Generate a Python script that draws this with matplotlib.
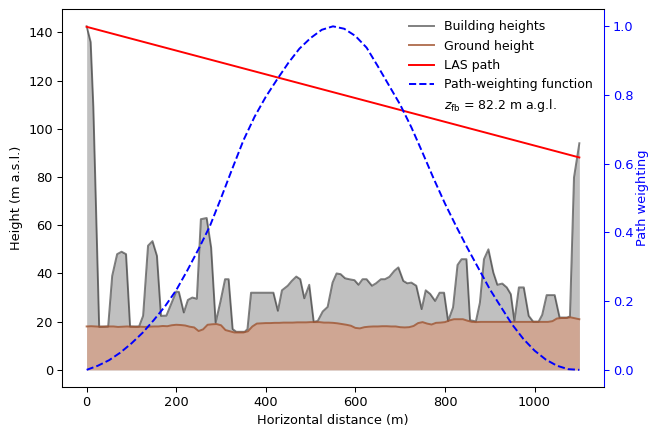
import numpy as np
import matplotlib
matplotlib.use('Agg')
import matplotlib.pyplot as plt
from matplotlib.lines import Line2D

# building roof profile along the path (distance m, height m a.s.l.)
bld_x = [0, 9, 15, 28, 48, 57, 68, 78, 88, 97, 117, 126, 137, 147, 157, 166, 178,
         200, 206, 217, 226, 236, 246, 255, 268, 278, 288, 299, 309, 317, 326, 334,
         353, 359, 367, 417, 427, 436, 449, 458, 468, 477, 486, 497, 507, 516, 527,
         538, 549, 558, 567, 577, 586, 598, 607, 616, 625, 637, 646, 657, 666, 676,
         687, 696, 707, 716, 725, 736, 748, 757, 767, 778, 788, 798, 807, 818, 828,
         837, 848, 856, 869, 878, 887, 897, 908, 917, 928, 938, 947, 955, 965, 976,
         987, 997, 1009, 1017, 1027, 1045, 1056, 1073, 1079, 1088, 1100]
bld_h = [142.5, 136, 109, 17.9, 18, 39, 48, 49, 48, 18, 18, 22.4, 51.5, 53.4, 47.3, 22.4, 22.5,
         32.5, 32.3, 23.8, 29, 30, 29.5, 62.5, 63, 50.7, 19.6, 28.6, 37.6, 37.6, 16.9, 15.8,
         15.8, 16.9, 32, 32, 24.5, 33, 34.9, 36.9, 38.7, 37.6, 29.7, 35.3, 19.9, 20.3, 24.2,
         26.1, 36.2, 40, 39.7, 38, 37.6, 37.2, 35.3, 37.6, 37.6, 34.9, 35.9, 37.6, 37.6, 38.6,
         41.1, 42.5, 36.9, 35.9, 36.2, 34.9, 25.2, 33, 31.5, 28.6, 32, 32, 20.3, 25.9, 43.5,
         45.9, 45.9, 20.6, 20.1, 27.9, 45.9, 50, 40.4, 35.3, 35.8, 34.2, 31.4, 20.3, 34.2, 34.2,
         22.4, 20, 20, 22.8, 31, 31, 21.7, 21.7, 22.2, 79.8, 94]

# terrain height, every 10 m
gnd_x = np.arange(0, 1110, 10)
gnd_h = [18.0, 18.1, 18.0, 17.9, 17.9, 18.0, 18.0, 17.8, 17.9, 18.0,
         17.9, 17.8, 17.9, 17.8, 17.9, 18.0, 18.0, 18.2, 18.1, 18.5,
         18.7, 18.6, 18.4, 17.9, 17.6, 16.1, 16.8, 18.7, 18.9, 19.0,
         18.5, 16.5, 16.0, 15.5, 15.5, 15.5, 16.0, 18.0, 19.2, 19.3,
         19.4, 19.4, 19.5, 19.5, 19.6, 19.6, 19.6, 19.7, 19.7, 19.7,
         19.8, 19.8, 19.8, 19.6, 19.6, 19.5, 19.3, 19.0, 18.7, 18.3,
         17.4, 17.2, 17.7, 17.9, 18.0, 18.0, 18.1, 18.1, 18.0, 18.0,
         17.7, 17.6, 17.7, 18.2, 19.4, 19.8, 19.2, 18.8, 19.5, 19.6,
         19.8, 20.5, 21.0, 21.0, 21.0, 20.4, 19.9, 19.8, 19.9, 19.9,
         19.9, 19.9, 19.9, 19.9, 19.9, 19.9, 19.9, 19.9, 19.9, 19.9,
         19.9, 19.9, 19.9, 19.9, 20.2, 21.3, 21.5, 21.5, 21.8, 21.4,
         21.0]

# scintillometer beam end points
las_x = [0, 1100]
las_h = [142.3, 88.1]

# path-weighting function, every 25 m
pw_x = np.arange(0, 1125, 25)
pw_w = [0.0, 0.012, 0.028, 0.05, 0.077, 0.108, 0.145, 0.185, 0.232, 0.29,
        0.352, 0.418, 0.50, 0.585, 0.668, 0.737, 0.795, 0.845, 0.893, 0.935,
        0.966, 0.99, 1.0, 0.993, 0.972, 0.938, 0.884, 0.828, 0.772, 0.706,
        0.632, 0.556, 0.484, 0.418, 0.355, 0.295, 0.235, 0.183, 0.132, 0.09,
        0.056, 0.03, 0.012, 0.002, 0.0]

z_fb = 82.2

s = 0.93  # overall scale of fonts/lines
plt.rcParams.update({
    'font.size': 10 * s,
    'axes.linewidth': 0.8 * s,
    'xtick.major.size': 3.5 * s, 'ytick.major.size': 3.5 * s,
    'xtick.major.width': 0.8 * s, 'ytick.major.width': 0.8 * s,
    'xtick.major.pad': 3.5 * s, 'ytick.major.pad': 3.5 * s,
    'axes.labelpad': 4.0 * s,
})
LW = 1.5 * s

fig = plt.figure(figsize=(6.5, 4.26), dpi=100)
ax = fig.add_axes([0.0954, 0.0915, 0.8338, 0.887])

ax.fill_between(bld_x, 0, bld_h, color='#c0c0c0', lw=0)
l_b, = ax.plot(bld_x, bld_h, color='k', alpha=0.5, lw=LW, label='Building heights')
ax.fill_between(gnd_x, 0, gnd_h, color='#cfa693', lw=0)
l_g, = ax.plot(gnd_x, gnd_h, color='sienna', alpha=0.8, lw=LW, label='Ground height')
l_las, = ax.plot(las_x, las_h, color='r', lw=LW, label='LAS path')

ax.set_xlabel('Horizontal distance (m)')
ax.set_ylabel('Height (m a.s.l.)')
ax.set_xticks([0, 200, 400, 600, 800, 1000])
ax.set_yticks(np.arange(0, 141, 20))

ax2 = ax.twinx()
l_pw, = ax2.plot(pw_x, pw_w, color='b', ls='--', lw=LW, label='Path-weighting function')
ax2.set_ylabel('Path weighting', color='b', labelpad=1.5)
ax2.tick_params(axis='y', colors='b')
ax2.spines['right'].set_color('b')

dummy = Line2D([], [], ls='none', label=r'$z_{\mathrm{fb}}$ = %.1f m a.g.l.' % z_fb)
handles = [l_b, l_g, l_las, l_pw, dummy]
ax2.legend(handles=handles, labels=[h.get_label() for h in handles],
           loc='upper right', frameon=False, fontsize=9.0)

fig.savefig('out.png', dpi=100)
